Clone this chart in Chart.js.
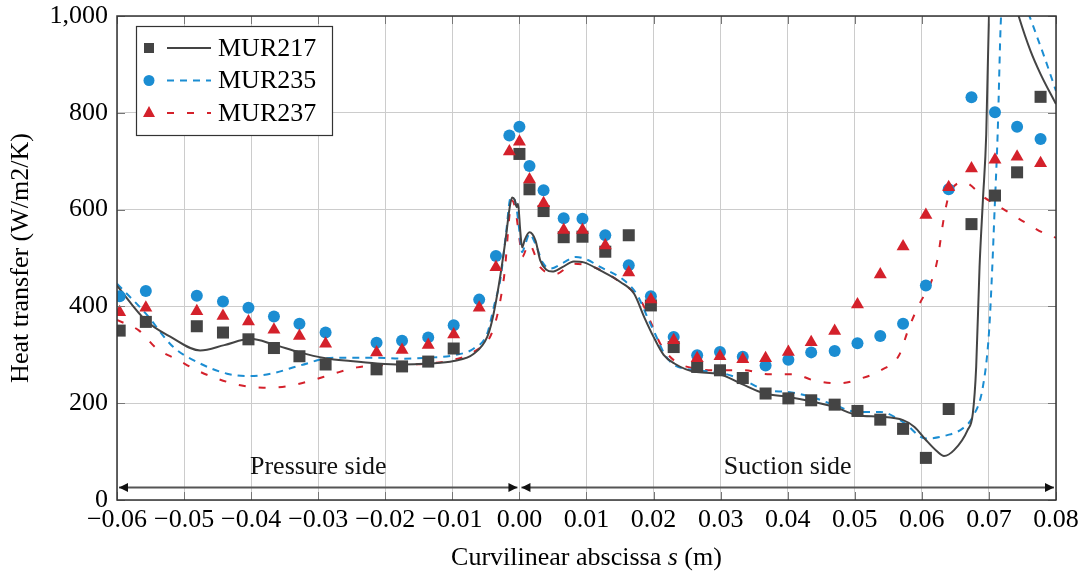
<!DOCTYPE html>
<html>
<head>
<meta charset="utf-8">
<script src="https://cdn.jsdelivr.net/npm/chart.js@4.4.0/dist/chart.umd.min.js"></script>
<style>
  html, body { margin: 0; padding: 0; background: #fff; }
</style>
</head>
<body>
<canvas id="canvas" width="1086" height="579"></canvas>
<script>
// probe positions (m) and measured heat transfer
const probeX = [-0.0596, -0.0557, -0.0481, -0.0442, -0.0404, -0.0366, -0.0328, -0.0289, -0.0213, -0.0175,
  -0.0136, -0.0098, -0.0060, -0.0035, -0.0015, 0.0, 0.0015, 0.0036, 0.0066, 0.0094,
  0.0128, 0.0163, 0.0196, 0.0230, 0.0265, 0.0299, 0.0333, 0.0367, 0.0401, 0.0435,
  0.0470, 0.0504, 0.0538, 0.0572, 0.0606, 0.0640, 0.0674, 0.0709, 0.0742, 0.0777];
const mur217Probe = [350, 368, 359, 346, 332, 314, 297, 280, 270, 276,
  286, 313, null, null, null, 715, 642, 597, 543, 544,
  513, 547, 402, 316, 275, 268, 252, 220, 210, 206,
  197, 184, 166, 147, 87, 188, 570, 629, 677, 833];
const mur235Probe = [421, 432, 422, 410, 397, 379, 364, 346, 325, 329,
  336, 361, 414, 504, 753, 771, 690, 640, 582, 581,
  547, 485, 421, 337, 299, 306, 296, 278, 290, 305,
  308, 324, 339, 364, 443, 642, 832, 801, 771, 746];
const mur237Probe = [388, 397, 390, 380, 369, 352, 339, 323, 305, 310,
  320, 342, 397, 481, 720, 740, 662, 613, 558, 558,
  526, 470, 414, 330, 293, 297, 291, 293, 306, 326,
  349, 404, 466, 524, 589, 646, 685, 703, 709, 696];

// computed curves
const mur217CurveX = [-0.0600, -0.0557, -0.0520, -0.0476, -0.0440, -0.0401, -0.0366, -0.0328, -0.0289, -0.0252,
  -0.0212, -0.0175, -0.0136, -0.0098, -0.0068, -0.0048, -0.0040, -0.0030, -0.0020, -0.0015,
  -0.0011, -0.0007, -0.0004, -0.0002, 0.0001, 0.0004, 0.0008, 0.0015, 0.0024, 0.0031,
  0.0040, 0.0049, 0.0064, 0.0081, 0.0096, 0.0121, 0.0151, 0.0171, 0.0186, 0.0200,
  0.0215, 0.0231, 0.0261, 0.0296, 0.0331, 0.0366, 0.0401, 0.0435, 0.0470, 0.0504,
  0.0538, 0.0572, 0.0589, 0.0606, 0.0623, 0.0633, 0.0648, 0.0668, 0.0676, 0.0681,
  0.0686, 0.0691, 0.0696, 0.0700, 0.0712, 0.0730, 0.0745, 0.0762, 0.0777, 0.0800];
const mur217CurveY = [443, 371, 337, 309, 320, 333, 321, 305, 293, 287,
  282, 280, 282, 287, 302, 337, 375, 450, 545, 600,
  625, 620, 605, 612, 560, 522, 538, 553, 536, 495,
  476, 472, 481, 493, 491, 474, 450, 426, 378, 337,
  300, 282, 265, 261, 240, 220, 213, 204, 192, 175,
  172, 165, 151, 124, 100, 91, 103, 144, 179, 275,
  481, 619, 756, 997, 1250, 1070, 997, 928, 880, 818];

const mur235CurveX = [-0.0600, -0.0557, -0.0516, -0.0476, -0.0436, -0.0404, -0.0367, -0.0327, -0.0277, -0.0212,
  -0.0175, -0.0136, -0.0098, -0.0068, -0.0048, -0.0038, -0.0028, -0.0020, -0.0013, -0.0008,
  -0.0004, 0.0000, 0.0004, 0.0009, 0.0015, 0.0025, 0.0035, 0.0046, 0.0065, 0.0084,
  0.0100, 0.0121, 0.0156, 0.0176, 0.0190, 0.0202, 0.0217, 0.0230, 0.0265, 0.0300,
  0.0335, 0.0367, 0.0401, 0.0435, 0.0470, 0.0504, 0.0538, 0.0572, 0.0606, 0.0638,
  0.0661, 0.0676, 0.0691, 0.0700, 0.0705, 0.0708, 0.0713, 0.0718, 0.0735, 0.0752,
  0.0765, 0.0783, 0.0800];
const mur235CurveY = [447, 385, 316, 282, 261, 256, 262, 278, 294, 294,
  292, 294, 299, 313, 344, 400, 460, 550, 625, 622,
  600, 555, 512, 530, 550, 525, 490, 478, 490, 502,
  497, 481, 454, 423, 380, 344, 300, 280, 268, 263,
  247, 227, 223, 213, 196, 182, 182, 161, 127, 134,
  148, 172, 234, 344, 481, 584, 756, 997, 1150, 1035,
  983, 914, 845];

const mur237CurveX = [-0.0600, -0.0567, -0.0541, -0.0510, -0.0481, -0.0451, -0.0416, -0.0382, -0.0347, -0.0312,
  -0.0277, -0.0242, -0.0212, -0.0175, -0.0136, -0.0098, -0.0068, -0.0038, -0.0023, -0.0011,
  -0.0006, 0.0000, 0.0004, 0.0014, 0.0031, 0.0054, 0.0081, 0.0111, 0.0146, 0.0181,
  0.0195, 0.0210, 0.0230, 0.0260, 0.0300, 0.0335, 0.0370, 0.0409, 0.0439, 0.0477,
  0.0509, 0.0539, 0.0566, 0.0581, 0.0599, 0.0611, 0.0623, 0.0633, 0.0641, 0.0663,
  0.0693, 0.0725, 0.0758, 0.0790, 0.0800];
const mur237CurveY = [372, 350, 313, 290, 268, 251, 237, 232, 235, 246,
  261, 274, 278, 280, 282, 290, 306, 357, 460, 619,
  600, 540, 502, 529, 481, 467, 488, 481, 454, 412,
  370, 323, 289, 272, 268, 268, 260, 260, 247, 241,
  251, 268, 299, 357, 412, 440, 495, 584, 632, 656,
  625, 598, 570, 546, 542];

const seriesNames = ['MUR217', 'MUR235', 'MUR237'];
const xTicks = { min: -0.06, max: 0.08, step: 0.01 };
const yTicks = { min: 0, max: 1000, step: 200 };
const sideLabels = ['Pressure side', 'Suction side'];
const sideSpans = [[-0.06, 0.0], [0.0, 0.08]];
const xTitle = ['Curvilinear abscissa ', 's', ' (m)'];

const GRAY = '#444444';
const BLUE = '#1b8dd2';
const RED = '#d4212b';
const FONT = '"Liberation Serif", "Times New Roman", serif';
const FS = 26;

function pts(xs, ys) {
  const out = [];
  for (let i = 0; i < xs.length; i++) {
    if (ys[i] !== null) out.push({ x: xs[i], y: ys[i] });
  }
  return out;
}

function arrowHead(ctx, x, y, dir) {
  ctx.beginPath();
  ctx.moveTo(x, y);
  ctx.lineTo(x - dir * 9, y - 4.5);
  ctx.lineTo(x - dir * 9, y + 4.5);
  ctx.closePath();
  ctx.fill();
}

const extrasPlugin = {
  id: 'extras',
  afterDraw(chart) {
    const { ctx, chartArea: a, scales: { x, y } } = chart;
    ctx.save();

    // inner tick marks
    ctx.strokeStyle = '#777';
    ctx.lineWidth = 1;
    ctx.beginPath();
    x.ticks.forEach(t => {
      const px = Math.round(x.getPixelForValue(t.value)) + 0.5;
      ctx.moveTo(px, a.bottom); ctx.lineTo(px, a.bottom - 8);
      ctx.moveTo(px, a.top); ctx.lineTo(px, a.top + 8);
    });
    y.ticks.forEach(t => {
      const py = Math.round(y.getPixelForValue(t.value)) + 0.5;
      ctx.moveTo(a.left, py); ctx.lineTo(a.left + 8, py);
      ctx.moveTo(a.right, py); ctx.lineTo(a.right - 8, py);
    });
    ctx.stroke();

    // frame
    ctx.strokeStyle = '#333';
    ctx.lineWidth = 1.5;
    ctx.strokeRect(a.left, a.top, a.right - a.left, a.bottom - a.top);

    // pressure / suction side arrows
    const ay = Math.round(y.getPixelForValue(27)) + 0.5;
    const ty = y.getPixelForValue(68);
    ctx.strokeStyle = '#555';
    ctx.fillStyle = '#111';
    ctx.lineWidth = 2;
    ctx.font = FS + 'px ' + FONT;
    ctx.textAlign = 'center';
    ctx.textBaseline = 'middle';
    sideSpans.forEach((s, i) => {
      const x0 = x.getPixelForValue(s[0]) + 2;
      const x1 = x.getPixelForValue(s[1]) - 2;
      ctx.beginPath();
      ctx.moveTo(x0, ay); ctx.lineTo(x1, ay);
      ctx.stroke();
      arrowHead(ctx, x0, ay, -1);
      arrowHead(ctx, x1, ay, 1);
      ctx.fillText(sideLabels[i], (x0 + x1) / 2, ty);
    });

    // x axis title with italic s
    ctx.fillStyle = '#000';
    ctx.textAlign = 'left';
    const fonts = [FS + 'px ' + FONT, 'italic ' + FS + 'px ' + FONT, FS + 'px ' + FONT];
    let total = 0;
    xTitle.forEach((t, i) => { ctx.font = fonts[i]; total += ctx.measureText(t).width; });
    let tx = (a.left + a.right) / 2 - total / 2;
    xTitle.forEach((t, i) => {
      ctx.font = fonts[i];
      ctx.fillText(t, tx, 558);
      tx += ctx.measureText(t).width;
    });

    // legend box
    ctx.font = FS + 'px ' + FONT;
    const bx = a.left + 19, by = a.top + 10, bw = 196, bh = 109;
    ctx.fillStyle = '#fff';
    ctx.fillRect(bx, by, bw, bh);
    ctx.strokeStyle = '#333';
    ctx.lineWidth = 1.2;
    ctx.strokeRect(bx + 0.5, by + 0.5, bw, bh);
    const rows = [
      { color: GRAY, dash: [], marker: 'rect' },
      { color: BLUE, dash: [7, 6], marker: 'circle' },
      { color: RED, dash: [7, 13], marker: 'triangle' }
    ];
    rows.forEach((r, i) => {
      const ry = by + 22 + i * 32.5;
      const mx = bx + 13;
      ctx.fillStyle = r.color;
      ctx.beginPath();
      if (r.marker === 'rect') {
        ctx.rect(mx - 5, ry - 5, 10, 10);
      } else if (r.marker === 'circle') {
        ctx.arc(mx, ry, 5.5, 0, Math.PI * 2);
      } else {
        ctx.moveTo(mx, ry - 7);
        ctx.lineTo(mx + 6, ry + 4);
        ctx.lineTo(mx - 6, ry + 4);
        ctx.closePath();
      }
      ctx.fill();
      ctx.strokeStyle = r.color;
      ctx.lineWidth = 2;
      ctx.setLineDash(r.dash);
      ctx.beginPath();
      ctx.moveTo(bx + 31, ry); ctx.lineTo(bx + 75, ry);
      ctx.stroke();
      ctx.setLineDash([]);
      ctx.fillStyle = '#000';
      ctx.textAlign = 'left';
      ctx.fillText(seriesNames[i], bx + 82, ry + 1);
    });
    ctx.restore();
  }
};

const ctx = document.getElementById('canvas').getContext('2d');

const chart = new Chart(ctx, {
  type: 'scatter',
  data: {
    datasets: [
      {
        label: seriesNames[2] + ' probes',
        data: pts(probeX, mur237Probe),
        pointStyle: 'triangle',
        pointRadius: 7.5,
        backgroundColor: RED,
        borderWidth: 0,
        showLine: false
      },
      {
        label: seriesNames[1] + ' probes',
        data: pts(probeX, mur235Probe),
        pointStyle: 'circle',
        pointRadius: 6,
        backgroundColor: BLUE,
        borderWidth: 0,
        showLine: false
      },
      {
        label: seriesNames[0] + ' probes',
        data: pts(probeX, mur217Probe),
        pointStyle: 'rect',
        pointRadius: 8.5,
        backgroundColor: GRAY,
        borderWidth: 0,
        showLine: false
      },
      {
        label: seriesNames[0],
        data: pts(mur217CurveX, mur217CurveY),
        showLine: true,
        borderColor: GRAY,
        borderWidth: 2,
        pointRadius: 0,
        cubicInterpolationMode: 'monotone'
      },
      {
        label: seriesNames[1],
        data: pts(mur235CurveX, mur235CurveY),
        showLine: true,
        borderColor: BLUE,
        borderWidth: 2,
        borderDash: [7, 6],
        pointRadius: 0,
        cubicInterpolationMode: 'monotone'
      },
      {
        label: seriesNames[2],
        data: pts(mur237CurveX, mur237CurveY),
        showLine: true,
        borderColor: RED,
        borderWidth: 2,
        borderDash: [7, 13],
        pointRadius: 0,
        cubicInterpolationMode: 'monotone'
      }
    ]
  },
  options: {
    responsive: false,
    animation: false,
    layout: { padding: { left: 0, top: 16, right: 30, bottom: 0 } },
    plugins: {
      legend: { display: false },
      tooltip: { enabled: false }
    },
    scales: {
      x: {
        type: 'linear',
        min: xTicks.min,
        max: xTicks.max,
        afterFit: s => { s.height = 79; s.paddingLeft = 0; s.paddingRight = 0; },
        afterBuildTicks: s => {
          const t = [];
          for (let v = xTicks.min; v <= xTicks.max + 1e-9; v += xTicks.step) t.push({ value: Math.round(v * 100) / 100 });
          s.ticks = t;
        },
        grid: { color: '#cccccc', lineWidth: 1, drawTicks: false },
        border: { display: false },
        ticks: {
          padding: 5,
          color: '#000',
          font: { family: FONT, size: FS },
          maxRotation: 0,
          autoSkip: false,
          callback: v => Math.abs(v) < 1e-9 ? '0.00' : v.toFixed(2).replace('-', '\u2212')
        },
        title: { display: false }
      },
      y: {
        min: yTicks.min,
        max: yTicks.max,
        afterFit: s => { s.width = 117; s.paddingTop = 0; s.paddingBottom = 0; },
        grid: { color: '#cccccc', lineWidth: 1, drawTicks: false },
        border: { display: false },
        ticks: {
          stepSize: yTicks.step,
          padding: 9,
          color: '#000',
          font: { family: FONT, size: FS },
          callback: v => v >= 1000 ? v.toLocaleString('en-US') : String(v)
        },
        title: {
          display: true,
          text: 'Heat transfer (W/m2/K)',
          color: '#000',
          font: { family: FONT, size: FS },
          padding: { top: 6, bottom: 0 }
        }
      }
    }
  },
  plugins: [extrasPlugin]
});
</script>
</body>
</html>
